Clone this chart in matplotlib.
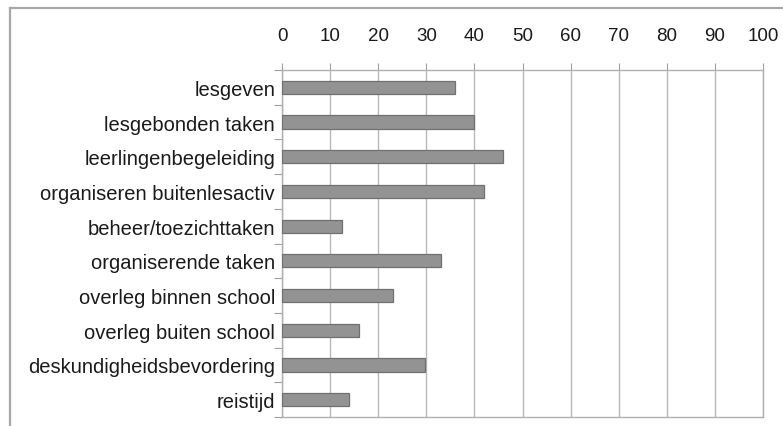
import matplotlib
matplotlib.use("Agg")
import matplotlib.pyplot as plt
from matplotlib.lines import Line2D
import numpy as np

categories = ["lesgeven", "lesgebonden taken", "leerlingenbegeleiding",
              "organiseren buitenlesactiv", "beheer/toezichttaken",
              "organiserende taken", "overleg binnen school",
              "overleg buiten school", "deskundigheidsbevordering", "reistijd"]
values = [36, 40, 46, 42, 12.5, 33, 23, 16, 29.7, 14]
xticks = list(range(0, 101, 10))

plt.rcParams["font.family"] = ["Liberation Sans", "DejaVu Sans"]

W, H = 783, 427
fig = plt.figure(figsize=(W / 100, H / 100), dpi=100)
fig.patch.set_facecolor("white")

# outer frame (left and top edges visible)
fig.add_artist(Line2D([10 / W, 10 / W], [1 - 9 / H, -0.1], color="#a8a8a8", lw=1.6))
fig.add_artist(Line2D([10 / W, 1.1], [1 - 9 / H, 1 - 9 / H], color="#a8a8a8", lw=1.6))

left, right, top, bottom = 282, 763, 71, 418
ax = fig.add_axes([left / W, 1 - bottom / H, (right - left) / W, (bottom - top) / H])

y = np.arange(len(categories))
ax.barh(y, values, height=0.38, color="#939393", edgecolor="#707070", linewidth=0.9, zorder=3)

ax.set_xlim(0, 100)
ax.set_ylim(len(categories) - 0.5, -0.5)
ax.set_xticks(xticks)
ax.xaxis.tick_top()
ax.tick_params(axis="x", direction="out", length=5, width=0.8, color="#a0a0a0",
               pad=14, labelsize=13.5, labelcolor="#1a1a1a")
ax.set_yticks(y)
ax.set_yticklabels(categories)
ax.tick_params(axis="y", length=0, pad=5, labelsize=14.5, labelcolor="#1a1a1a")
ax.set_yticks(np.arange(-0.5, len(categories), 1), minor=True)
ax.tick_params(axis="y", which="minor", direction="out", length=6, width=0.8, color="#a0a0a0")

ax.grid(axis="x", color="#b8b8b8", linewidth=1.0, zorder=0)
for side in ["top", "left", "bottom", "right"]:
    ax.spines[side].set_color("#b0b0b0")
    ax.spines[side].set_linewidth(1.0)

fig.savefig("out.png", dpi=100)
